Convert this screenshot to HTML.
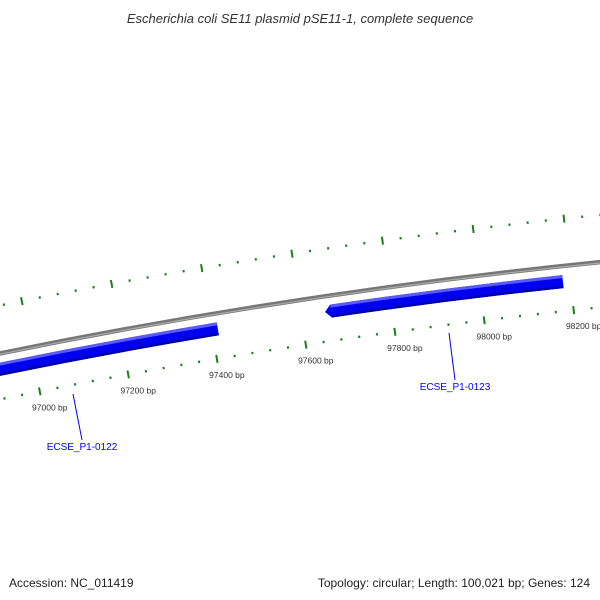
<!DOCTYPE html>
<html><head><meta charset="utf-8"><style>
html,body{margin:0;padding:0;background:#fff;}
svg{display:block;font-family:"Liberation Sans","DejaVu Sans",sans-serif;}
</style></head><body>
<svg id="map" width="600" height="600" viewBox="0 0 600 600" xmlns="http://www.w3.org/2000/svg">
<text x="300" y="23" text-anchor="middle" font-size="13" font-style="italic" fill="#333">Escherichia coli SE11 plasmid pSE11-1, complete sequence</text>
<g id="ticks"></g>
<g id="back"></g>
<g id="genes"></g>
<g id="labels"></g>
<text x="9" y="587" font-size="12" fill="#222">Accession: NC_011419</text>
<text x="590" y="587" text-anchor="end" font-size="12" fill="#222">Topology: circular; Length: 100,021 bp; Genes: 124</text>
</svg>
<script>
const majorTicks=[97000,97200,97400,97600,97800,98000,98200];
const tickLabels=["97000 bp","97200 bp","97400 bp","97600 bp","97800 bp","98000 bp","98200 bp"];
const geneNames=["ECSE_P1-0122","ECSE_P1-0123"];
const geneStarts=[96500,97653];
const geneEnds=[97413,98183];
const geneStrands=[-1,-1];

const NS="http://www.w3.org/2000/svg";
const CX=1201,CY=6232,R0=6000,RIN=5955,ROUT=6047,A0=-0.1509,B0=97600,K=7.56e-5;
function ang(bp){return A0+(bp-B0)*K;}
function pt(bp,r){const a=ang(bp);return [CX+r*Math.sin(a),CY-r*Math.cos(a)];}
function el(tag,attrs,parent){const e=document.createElementNS(NS,tag);for(const k in attrs)e.setAttribute(k,attrs[k]);parent.appendChild(e);return e;}
function arc(b1,b2,r){const p1=pt(b1,r),p2=pt(b2,r);return `M${p1[0]},${p1[1]} A${r},${r} 0 0 1 ${p2[0]},${p2[1]}`;}

// backbone
const bg=document.getElementById('back');
let b=el('path',{d:arc(96800,98500,R0),stroke:'#777',"stroke-width":4.5,fill:'none'},bg);


b=el('path',{d:arc(96800,98500,R0-0.8),stroke:'#aaa',"stroke-width":1.2,fill:'none'},bg);



// ticks
const tg=document.getElementById('ticks');
for(let bp=96880;bp<=98360;bp+=40){
  const major=majorTicks.includes(bp);
  [[RIN,1],[ROUT,1]].forEach(([r])=>{
    const h=major?4:1.2;
    const p1=pt(bp,r-h),p2=pt(bp,r+h);
    const t=el('line',{x1:p1[0],y1:p1[1],x2:p2[0],y2:p2[1],stroke:'#1a7f1a',"stroke-width":2},tg);
    
    
  });
}
const lg=document.getElementById('labels');
majorTicks.forEach((bp,i)=>{
  const p=pt(bp,RIN);
  const t=el('text',{x:p[0]+10,y:p[1]+19,"text-anchor":"middle","font-size":"8.5",fill:'#333'},lg);
  t.textContent=tickLabels[i];
  
  
});

// genes
const gg=document.getElementById('genes');
const gTop=R0-9,gBot=R0-22;
geneNames.forEach((n,i)=>{
  const g=el('g',{},gg);
  
  
  const s=geneStarts[i],e=geneEnds[i];
  const tipLen=geneStrands[i]<0?6/ (R0*K):0;
  const s2=s+tipLen;
  const pTopS=pt(s2,gTop),pBotS=pt(s2,gBot),pTip=pt(s,(gTop+gBot)/2),pTopE=pt(e,gTop),pBotE=pt(e,gBot);
  const d=`M${pTopS[0]},${pTopS[1]} A${gTop},${gTop} 0 0 1 ${pTopE[0]},${pTopE[1]} L${pBotE[0]},${pBotE[1]} A${gBot},${gBot} 0 0 0 ${pBotS[0]},${pBotS[1]} L${pTip[0]},${pTip[1]} Z`;
  el('path',{d:d,fill:'#0000f0'},g);
  el('path',{d:arc(s2,e,gTop-1.5),stroke:'#5a5aff',"stroke-width":3,fill:'none'},g);
  el('path',{d:arc(s2,e,gBot+1.2),stroke:'#0000a8',"stroke-width":2.4,fill:'none'},g);
});
// gene labels
const gl=[[73,394,82,440,82,450],[449,333,455,380,455,390]];
geneNames.forEach((n,i)=>{
  const c=gl[i];
  const l=el('line',{x1:c[0],y1:c[1],x2:c[2],y2:c[3],stroke:'#0000ff',"stroke-width":1},lg);
  
  
  const t=el('text',{x:c[4],y:c[5],"text-anchor":"middle","font-size":"10",fill:'#0000ff'},lg);
  t.textContent=n;
  
  
});
</script>
</body></html>
